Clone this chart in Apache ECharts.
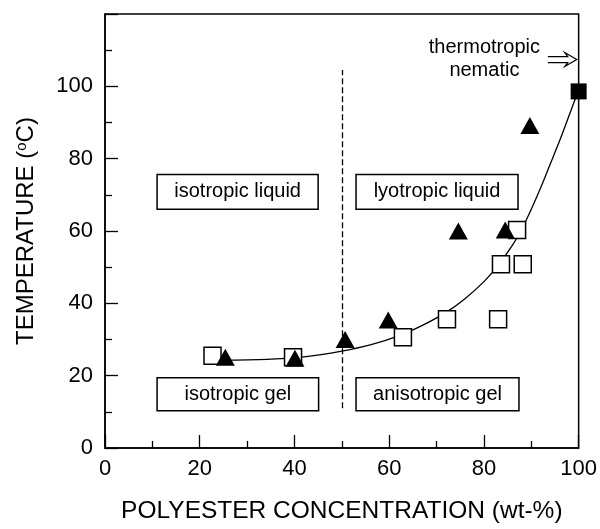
<!DOCTYPE html>
<html>
<head>
<meta charset="utf-8">
<script src="https://cdn.jsdelivr.net/npm/echarts@6/dist/echarts.min.js"></script>
<style>html,body{margin:0;padding:0;background:#fff;}#c{width:600px;height:529px;}</style>
</head>
<body>
<div id="c"></div>
<script>
// open squares (x: wt-%, y: °C)
var openSquares = [[22.7,25.5],[39.7,25.1],[62.9,30.6],[72.2,35.6],[83.0,35.6],[83.6,50.8],[88.2,50.8],[87.0,60.3]];
// filled square (thermotropic nematic)
var filledSquares = [[100,98.6]];
// filled triangles
var triangles = [[25.4,25.1],[40.1,24.8],[50.7,30.0],[59.8,35.4],[74.6,60.0],[84.5,60.3],[89.7,89.2]];
// fitted curve
var curve = [[26,24.3],[35,24.6],[42,25.2],[50,26.8],[56,28.5],[62,31.0],[67,33.9],[72,37.5],[76,41.3],[80,46.0],[83,50.5],[86,56.0],[88,60.5],[90,66.0],[92,72.0],[94,78.5],[96,85.0],[98,92.0],[100,99]];
// region boxes: [x1, y1, x2, y2, text]
var regions = [
  [11.0,75.6,45.0,66.0,'isotropic liquid'],
  [53.0,75.6,87.2,66.0,'lyotropic liquid'],
  [11.0,19.4,45.1,10.3,'isotropic gel'],
  [53.0,19.4,87.4,10.3,'anisotropic gel']
];
// dashed boundary at 50 wt-%
var boundary = [[50,11],[50,104.5]];
// arrow [xTail, xTip, y]
var arrow = [[93.5,99.6,107.4]];
var arrowText = [[80.1,107.5,'thermotropic\nnematic']];
var xTicks = [0,20,40,60,80,100];
var yTicks = [0,20,40,60,80,100];

var FONT = 'Liberation Sans, Arial, Helvetica, sans-serif';
var chart = echarts.init(document.getElementById('c'));
chart.setOption({
  animation: false,
  backgroundColor: '#fff',
  textStyle: {fontFamily: FONT},
  grid: {left: 105, right: 17.5, top: 14, bottom: 76.5, show: true, borderColor: '#000', borderWidth: 1.5},
  xAxis: {
    type: 'value', min: 0, max: 100, interval: 20,
    name: 'POLYESTER CONCENTRATION (wt-%)', nameLocation: 'middle', nameGap: 51,
    nameTextStyle: {fontSize: 24.5, color: '#000', fontFamily: FONT},
    axisLine: {lineStyle: {color: '#000', width: 1.5}},
    axisTick: {inside: true, length: 13, lineStyle: {color: '#000', width: 1.3}},
    minorTick: {show: true, splitNumber: 2, length: 7, lineStyle: {color: '#000', width: 1.3}},
    splitLine: {show: false},
    axisLabel: {fontSize: 22, color: '#000', margin: 10, fontFamily: FONT,
      formatter: function(v){ return xTicks.indexOf(v) >= 0 ? String(v) : ''; }}
  },
  yAxis: {
    type: 'value', min: 0, max: 120, interval: 20,
    name: '{a|TEMPERATURE (}{s|o}{a|C)}', nameLocation: 'middle', nameGap: 66,
    nameTextStyle: {color: '#000', fontFamily: FONT, rich: {
      a: {fontSize: 24, color: '#000', fontFamily: FONT},
      s: {fontSize: 15, color: '#000', fontFamily: FONT, verticalAlign: 'top', padding: [0,0,10,0]}
    }},
    axisLine: {lineStyle: {color: '#000', width: 1.5}},
    axisTick: {inside: true, length: 13, lineStyle: {color: '#000', width: 1.3}},
    minorTick: {show: true, splitNumber: 2, length: 7, lineStyle: {color: '#000', width: 1.3}},
    splitLine: {show: false},
    axisLabel: {fontSize: 22, color: '#000', margin: 12, fontFamily: FONT,
      formatter: function(v){ return yTicks.indexOf(v) >= 0 ? String(v) : ''; }}
  },
  series: [
    {
      type: 'line', data: curve, smooth: 0.3, showSymbol: false, clip: false,
      lineStyle: {color: '#000', width: 1.3}, z: 2,
      markArea: {
        silent: true,
        itemStyle: {color: '#fff', borderColor: '#000', borderWidth: 1.5},
        label: {show: true, position: 'inside', fontSize: 20, color: '#000', fontFamily: FONT},
        data: regions.map(function(r){ return [{coord: [r[0], r[1]], name: r[4]}, {coord: [r[2], r[3]]}]; })
      },
      markLine: {
        silent: true, symbol: ['none','none'], label: {show: false},
        lineStyle: {color: '#000', width: 1.3, type: [6,3]},
        data: [[{coord: boundary[0]}, {coord: boundary[1]}]]
      }
    },
    {
      type: 'scatter', data: openSquares, symbol: 'rect', symbolSize: 17, clip: false, z: 3,
      itemStyle: {color: '#fff', borderColor: '#000', borderWidth: 1.5, opacity: 1}
    },
    {
      type: 'scatter', data: filledSquares, symbol: 'rect', symbolSize: 16, clip: false, z: 4,
      itemStyle: {color: '#000', opacity: 1}
    },
    {
      type: 'scatter', data: triangles, symbol: 'triangle', symbolSize: [19,17], clip: false, z: 5,
      itemStyle: {color: '#000', opacity: 1}
    },
    {
      type: 'custom', data: arrow, clip: false, z: 6, silent: true,
      renderItem: function(params, api){
        var t = api.coord([api.value(0), api.value(2)]);
        var h = api.coord([api.value(1), api.value(2)]);
        var y = h[1];
        return {
          type: 'polyline',
          shape: {points: [[t[0], y-3],[h[0]-9, y-3],[h[0]-12, y-7],[h[0], y],[h[0]-12, y+7],[h[0]-9, y+3],[t[0], y+3]]},
          style: {stroke: '#000', lineWidth: 1.2, fill: null}
        };
      }
    },
    {
      type: 'custom', data: arrowText, clip: false, z: 6, silent: true,
      renderItem: function(params, api){
        var p = api.coord([api.value(0), api.value(1)]);
        return {
          type: 'text', x: p[0], y: p[1],
          style: {text: arrowText[params.dataIndex][2], fontSize: 20, fontFamily: FONT, fill: '#000',
                  align: 'center', verticalAlign: 'middle', lineHeight: 23}
        };
      }
    }
  ]
});
</script>
</body>
</html>
